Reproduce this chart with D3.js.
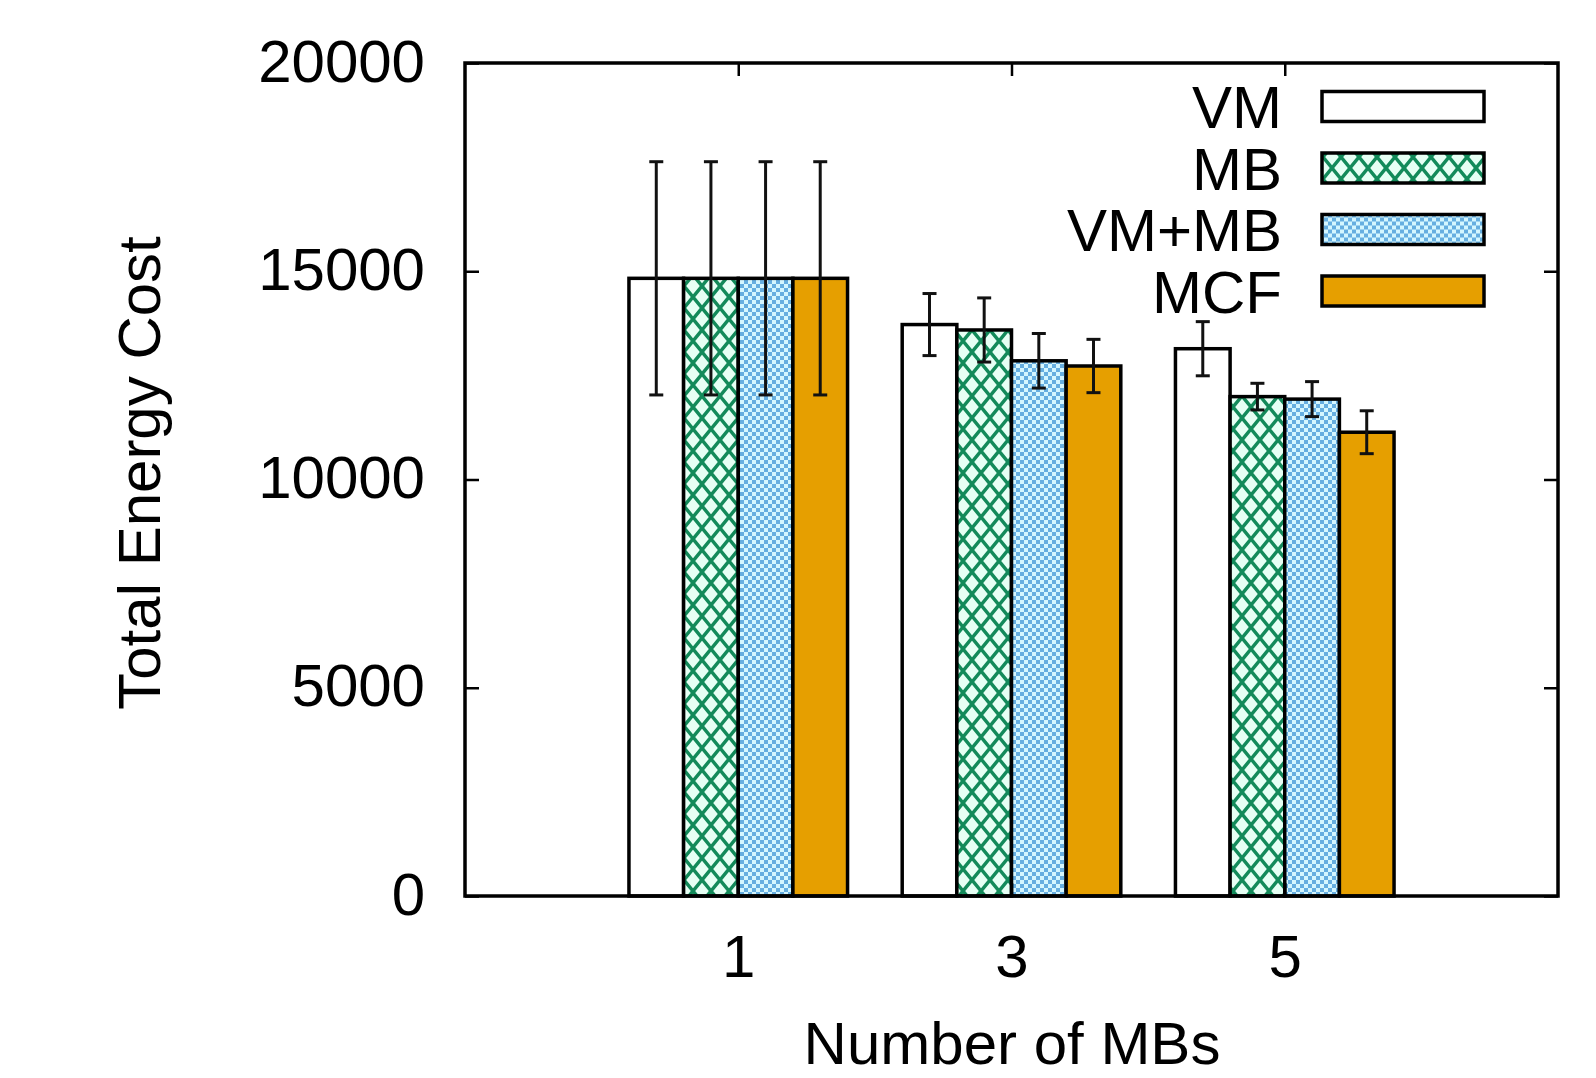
<!DOCTYPE html>
<html>
<head>
<meta charset="utf-8">
<script src="https://cdn.jsdelivr.net/npm/d3@7"></script>
<style>
  html, body { margin: 0; padding: 0; background: #fff; }
  svg text { font-family: "Liberation Sans", Arial, Helvetica, sans-serif; fill: #000; }
</style>
</head>
<body>
<svg id="chart" width="1596" height="1078"></svg>
<script>
// data
var categories = ['1', '3', '5'];
var seriesNames = ['VM', 'MB', 'VM+MB', 'MCF'];

var vmValues = [14830, 13720, 13140];
var mbValues = [14830, 13590, 11990];
var vmMbValues = [14830, 12850, 11930];
var mcfValues = [14830, 12725, 11135];

var vmErrors = [2800, 745, 650];
var mbErrors = [2800, 770, 320];
var vmMbErrors = [2800, 655, 420];
var mcfErrors = [2800, 640, 515];

var yTicks = [0, 5000, 10000, 15000, 20000];

var seriesValues = [vmValues, mbValues, vmMbValues, mcfValues];
var seriesErrors = [vmErrors, mbErrors, vmMbErrors, mcfErrors];

var margin = { left: 465, right: 1558, top: 63, bottom: 896 };
var fontSize = 60;

var svg = d3.select('#chart');

// fill patterns (gnuplot-ish)
var defs = svg.append('defs');

var cross = defs.append('pattern')
  .attr('id', 'pat-mb')
  .attr('patternUnits', 'userSpaceOnUse')
  .attr('width', 18)
  .attr('height', 22);
cross.append('rect').attr('width', 18).attr('height', 22).attr('fill', '#e6fff4');
cross.append('path')
  .attr('d', 'M0,0L18,22M18,0L0,22')
  .attr('stroke', '#138a5a')
  .attr('stroke-width', 3.4)
  .attr('fill', 'none');

var checker = defs.append('pattern')
  .attr('id', 'pat-vmmb')
  .attr('patternUnits', 'userSpaceOnUse')
  .attr('width', 8)
  .attr('height', 8);
checker.append('rect').attr('width', 8).attr('height', 8).attr('fill', '#d4f6ff');
checker.append('rect').attr('width', 4).attr('height', 4).attr('fill', '#66aee0');
checker.append('rect').attr('x', 4).attr('y', 4).attr('width', 4).attr('height', 4).attr('fill', '#66aee0');

var fills = ['#ffffff', 'url(#pat-mb)', 'url(#pat-vmmb)', '#e69f00'];

var xScale = d3.scaleLinear().domain([-1, 3]).range([margin.left, margin.right]);
var yScale = d3.scaleLinear().domain([0, 20000]).range([margin.bottom, margin.top]);

var barWidth = xScale(0.2) - xScale(0);

var rows = [];
seriesNames.forEach(function(name, j) {
  categories.forEach(function(cat, i) {
    rows.push({
      series: j,
      cat: i,
      value: seriesValues[j][i],
      err: seriesErrors[j][i]
    });
  });
});

var barX = function(d) {
  return xScale(d.cat - 0.4 + d.series * 0.2);
};

// bars
svg.append('g').attr('class', 'bars')
  .selectAll('rect')
  .data(rows)
  .enter().append('rect')
  .attr('x', barX)
  .attr('y', function(d) { return yScale(d.value); })
  .attr('width', barWidth)
  .attr('height', function(d) { return yScale(0) - yScale(d.value); })
  .attr('fill', function(d) { return fills[d.series]; })
  .attr('stroke', '#000')
  .attr('stroke-width', 3.5);

// error bars
var errG = svg.append('g').attr('class', 'errors')
  .selectAll('g')
  .data(rows)
  .enter().append('g')
  .attr('transform', function(d) { return 'translate(' + (barX(d) + barWidth / 2) + ',0)'; });

errG.append('line')
  .attr('x1', 0).attr('x2', 0)
  .attr('y1', function(d) { return yScale(d.value + d.err); })
  .attr('y2', function(d) { return yScale(d.value - d.err); })
  .attr('stroke', '#111')
  .attr('stroke-width', 3);

errG.selectAll('line.cap')
  .data(function(d) { return [d.value + d.err, d.value - d.err]; })
  .enter().append('line')
  .attr('class', 'cap')
  .attr('x1', -7).attr('x2', 7)
  .attr('y1', function(v) { return yScale(v); })
  .attr('y2', function(v) { return yScale(v); })
  .attr('stroke', '#111')
  .attr('stroke-width', 3);

// axes, ticks drawn inward like gnuplot
var styleAxis = function(g) {
  g.select('.domain').remove();
  g.selectAll('.tick line').attr('stroke', '#000').attr('stroke-width', 2.5);
  g.selectAll('.tick text')
    .attr('font-size', fontSize)
    .attr('font-family', '"Liberation Sans", Arial, sans-serif')
    .attr('fill', '#000');
};

svg.append('g')
  .attr('transform', 'translate(' + margin.left + ',0)')
  .call(d3.axisLeft(yScale).tickValues(yTicks).tickSizeInner(-14).tickSizeOuter(0).tickPadding(40)
    .tickFormat(d3.format('d')))
  .call(styleAxis)
  .selectAll('.tick text').attr('dy', '0.3em');

svg.append('g')
  .attr('transform', 'translate(' + margin.right + ',0)')
  .call(d3.axisRight(yScale).tickValues(yTicks).tickSizeInner(-14).tickSizeOuter(0).tickFormat(''))
  .call(styleAxis);

svg.append('g')
  .attr('transform', 'translate(0,' + margin.bottom + ')')
  .call(d3.axisBottom(xScale).tickValues([0, 1, 2]).tickSizeInner(-13).tickSizeOuter(0).tickPadding(38)
    .tickFormat(function(d) { return categories[d]; }))
  .call(styleAxis);

svg.append('g')
  .attr('transform', 'translate(0,' + margin.top + ')')
  .call(d3.axisTop(xScale).tickValues([0, 1, 2]).tickSizeInner(-13).tickSizeOuter(0).tickFormat(''))
  .call(styleAxis);

// border
svg.append('rect')
  .attr('x', margin.left)
  .attr('y', margin.top)
  .attr('width', margin.right - margin.left)
  .attr('height', margin.bottom - margin.top)
  .attr('fill', 'none')
  .attr('stroke', '#000')
  .attr('stroke-width', 3.5);

// axis titles
svg.append('text')
  .attr('transform', 'translate(160,473) rotate(-90)')
  .attr('text-anchor', 'middle')
  .attr('font-size', fontSize)
  .text('Total Energy Cost');

svg.append('text')
  .attr('x', 1012)
  .attr('y', 1064)
  .attr('text-anchor', 'middle')
  .attr('font-size', fontSize)
  .text('Number of MBs');

// legend
var legend = svg.append('g').attr('class', 'legend')
  .selectAll('g')
  .data(seriesNames)
  .enter().append('g')
  .attr('transform', function(d, i) { return 'translate(0,' + (106.5 + i * 61.5) + ')'; });

legend.append('text')
  .attr('x', 1282)
  .attr('y', 0)
  .attr('dy', '0.36em')
  .attr('text-anchor', 'end')
  .attr('font-size', fontSize)
  .text(function(d) { return d; });

legend.append('rect')
  .attr('x', 1322)
  .attr('y', -15)
  .attr('width', 162)
  .attr('height', 30)
  .attr('fill', function(d, i) { return fills[i]; })
  .attr('stroke', '#000')
  .attr('stroke-width', 3.5);
</script>
</body>
</html>
